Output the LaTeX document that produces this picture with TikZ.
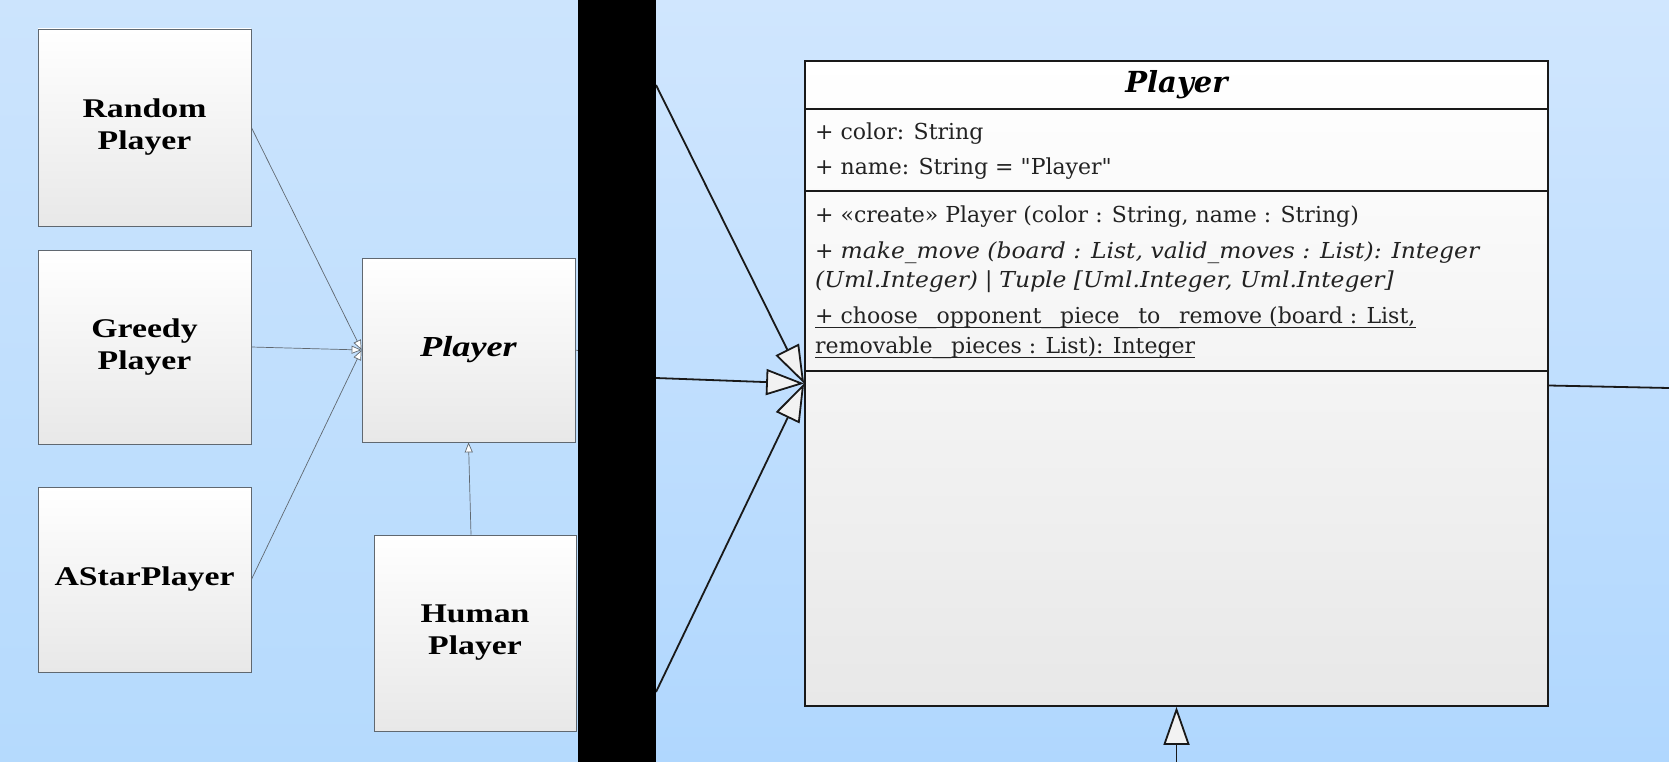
\documentclass[tikz,border=0pt]{standalone}
\usepackage{fontspec}
\usepackage{graphicx}
\usetikzlibrary{arrows.meta}
\newfontfamily\boxfont[FakeStretch=1.25]{Liberation Serif}
\newfontfamily\clsfont[ItalicFeatures={FakeStretch=1.065}]{DejaVu Serif}
\newcommand\usc{\scalebox{1.7}[1]{\_}}
\definecolor{bgtopL}{RGB}{204,228,253}
\definecolor{bgbotL}{RGB}{181,218,253}
\definecolor{bgtopR}{RGB}{208,230,254}
\definecolor{bgbotR}{RGB}{176,215,254}
\definecolor{boxbot}{RGB}{232,232,232}
\definecolor{boxline}{RGB}{96,104,112}
\definecolor{txt}{RGB}{34,34,34}
\begin{document}
\begin{tikzpicture}[x=1pt,y=-1pt,
    smallbox/.style={draw=boxline, line width=0.8pt, top color=white, bottom color=boxbot,
      inner sep=0pt, minimum width=213pt, align=center,
      font=\boxfont\bfseries\fontsize{27}{32}\selectfont},
    smallgen/.style={draw=boxline, line width=0.7pt, -{Triangle[length=10pt,width=8pt,fill=white]}},
    biggen/.style={draw=black!90, line width=1.8pt, -{Triangle[length=38pt,width=26pt,fill=black!5]}},
    attr/.style={anchor=base west, inner sep=0pt, text=txt, font=\clsfont\fontsize{22}{26}\selectfont},
    uline/.style={draw=txt, line width=1.2pt}]
    \useasboundingbox (0,0) rectangle (1669,762);
    % two views of the same diagram
    \shade[top color=bgtopL, bottom color=bgbotL] (0,0) rectangle (578,762);
    \shade[top color=bgtopR, bottom color=bgbotR] (656,0) rectangle (1669,762);

    % zoomed out view
    \node[smallbox, minimum height=197pt] (rnd) at (144.5,127.5) {Random\\Player};
    \node[smallbox, minimum height=194pt] (grd) at (144.5,347) {Greedy\\Player};
    \node[smallbox, minimum height=185pt] (ast) at (144.5,579.5) {AStarPlayer};
    \node[smallbox, minimum height=184pt] (pl) at (468.5,350) {\fontsize{29}{32}\selectfont\itshape Player};
    \node[smallbox, minimum width=202pt, minimum height=196pt] (hum) at (475,633) {Human\\Player};
    \coordinate (stub) at (580,351);
    \draw[smallgen] (rnd.east) -- (pl.west);
    \draw[smallgen] (grd.east) -- (pl.west);
    \draw[smallgen] (ast.east) -- (pl.west);
    \draw[smallgen] ([xshift=-4pt]hum.north) -- (pl.south);
    \draw[draw=boxline, line width=0.7pt] (pl.east) -- (stub);

    % zoomed in view
    \node[draw=black!90, line width=1.8pt, top color=white, bottom color=boxbot,
      minimum width=743pt, minimum height=645pt] (cls) at (1176.5,383.5) {};
    \draw[draw=black!90, line width=1.8pt] ([yshift=-49pt]cls.north west) -- ([yshift=-49pt]cls.north east);
    \draw[draw=black!90, line width=1.8pt] ([yshift=-131pt]cls.north west) -- ([yshift=-131pt]cls.north east);
    \draw[draw=black!90, line width=1.8pt] ([yshift=-311pt]cls.north west) -- ([yshift=-311pt]cls.north east);
    \node[anchor=base, inner sep=0pt, font=\clsfont\bfseries\itshape\fontsize{29}{34}\selectfont] (ttl) at (1176.5,93) {Player};
    \node[attr] (a1) at (815,140) {+ color: String};
    \node[attr] (a2) at (815,175) {+ name: String = "Player"};
    \node[attr] (o1) at (815,222) {+ «create» Player (color : String, name : String)};
    \node[attr] (o2) at (815,258) {+ \textit{make\_move (board : List, valid\_moves : List): Integer}};
    \node[attr] (o3) at (815,287) {\textit{(Uml.Integer)} | \textit{Tuple [Uml.Integer, Uml.Integer]}};
    \node[attr] (o4) at (815,323) {+ choose\usc opponent\usc piece\usc to\usc remove (board : List,};
    \node[attr] (o5) at (815,353) {removable\usc pieces : List): Integer};
    \draw[uline] ([yshift=-4.6pt]o4.base west) -- ([yshift=-4.6pt]o4.base east);
    \draw[uline] ([yshift=-4.6pt]o5.base west) -- ([yshift=-4.6pt]o5.base east);

    \coordinate (inA) at (656,85);
    \coordinate (inB) at (656,378);
    \coordinate (inC) at (656,692);
    \coordinate (outR) at (1669,388);
    \coordinate (inD) at (1176.5,762);
    \draw[biggen] (inA) -- (cls.west);
    \draw[biggen] (inB) -- (cls.west);
    \draw[biggen] (inC) -- (cls.west);
    \draw[biggen] (inD) -- (cls.south);
    \draw[draw=black!90, line width=1.8pt] ([yshift=-2pt]cls.east) -- (outR);

    % black bar between the views
    \fill[black] (578,0) rectangle (656,762);
\end{tikzpicture}
\end{document}
